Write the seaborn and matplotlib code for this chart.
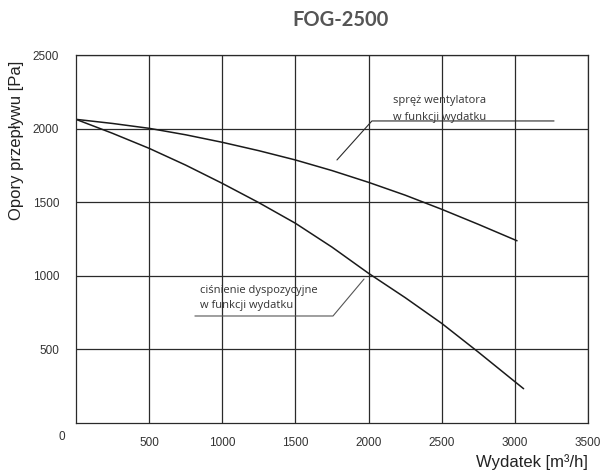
import seaborn as sns
import matplotlib.pyplot as plt
import pandas as pd

# values
flow = [0, 250, 500, 750, 1000, 1250, 1500, 1750, 2000, 2250, 2500, 2750, 3015]
fan_pressure = [2063, 2035, 2002, 1958, 1907, 1850, 1787, 1715, 1635, 1548, 1452, 1350, 1238]
flow_avail = [0, 250, 500, 750, 1000, 1250, 1500, 1750, 2000, 2250, 2500, 2750, 3000, 3060]
available_pressure = [2063, 1968, 1866, 1752, 1628, 1497, 1357, 1195, 1017, 852, 677, 482, 281, 233]

x_ticks = [500, 1000, 1500, 2000, 2500, 3000, 3500]
y_ticks = [500, 1000, 1500, 2000, 2500]


def main():
    sns.set_style('white')
    plt.rcParams['font.family'] = ['Liberation Sans', 'DejaVu Sans']

    fig = plt.figure(figsize=(6.02, 4.71), dpi=100)
    ax = fig.add_axes([0.1262, 0.1019, 0.8505, 0.7813])

    df_fan = pd.DataFrame({'flow': flow, 'p': fan_pressure})
    df_av = pd.DataFrame({'flow': flow_avail, 'p': available_pressure})
    sns.lineplot(data=df_fan, x='flow', y='p', ax=ax, color='#1a1a1a', lw=1.1)
    sns.lineplot(data=df_av, x='flow', y='p', ax=ax, color='#1a1a1a', lw=1.1)

    ax.set_xlim(0, 3500)
    ax.set_ylim(0, 2500)
    ax.set_xticks(x_ticks)
    ax.set_yticks(y_ticks)
    ax.tick_params(axis='x', length=4, width=0.8, color='#333333',
                   labelsize=8.5, labelcolor='#333333', pad=6)
    ax.tick_params(axis='y', length=0, labelsize=8.5, labelcolor='#333333', pad=12)
    ax.grid(True, color='#2a2a2a', lw=0.9)
    for s in ax.spines.values():
        s.set_color('#2a2a2a')
        s.set_linewidth(0.9)
    ax.set_xlabel('')
    ax.set_ylabel('')

    # zero label at the origin corner
    fig.text(62 / 602, 1 - 437 / 471, '0', fontsize=8.5, color='#333333',
             ha='center', va='center')

    # leader lines for annotations
    ax.plot([1784, 2023, 3268], [1787, 2052, 2052], color='#2a2a2a', lw=0.8)
    ax.plot([1969, 1757, 813], [978, 727, 727], color='#555555', lw=0.8)
    ax.text(2165, 2130, 'spręż wentylatora\nw funkcji wydatku', fontsize=8,
            family=['Open Sans', 'DejaVu Sans'], color='#333333',
            linespacing=1.75, va='center')
    ax.text(850, 850, 'ciśnienie dyspozycyjne\nw funkcji wydatku', fontsize=8,
            family=['Open Sans', 'DejaVu Sans'], color='#333333',
            linespacing=1.55, va='center')

    fig.text(341 / 602, 1 - 20 / 471, 'FOG-2500', fontsize=14.5,
             fontweight='bold', family=['Lato', 'DejaVu Sans'],
             color='#555555', ha='center', va='center')
    fig.text(17 / 602, 1 - 140 / 471, 'Opory przepływu [Pa]', fontsize=12,
             rotation=90, ha='center', va='center', color='#222222')
    fig.text(588 / 602, 1 - 462 / 471, 'Wydatek [m³/h]', fontsize=12,
             ha='right', va='center', color='#222222')

    fig.savefig('out.png', dpi=100)


if __name__ == '__main__':
    main()
